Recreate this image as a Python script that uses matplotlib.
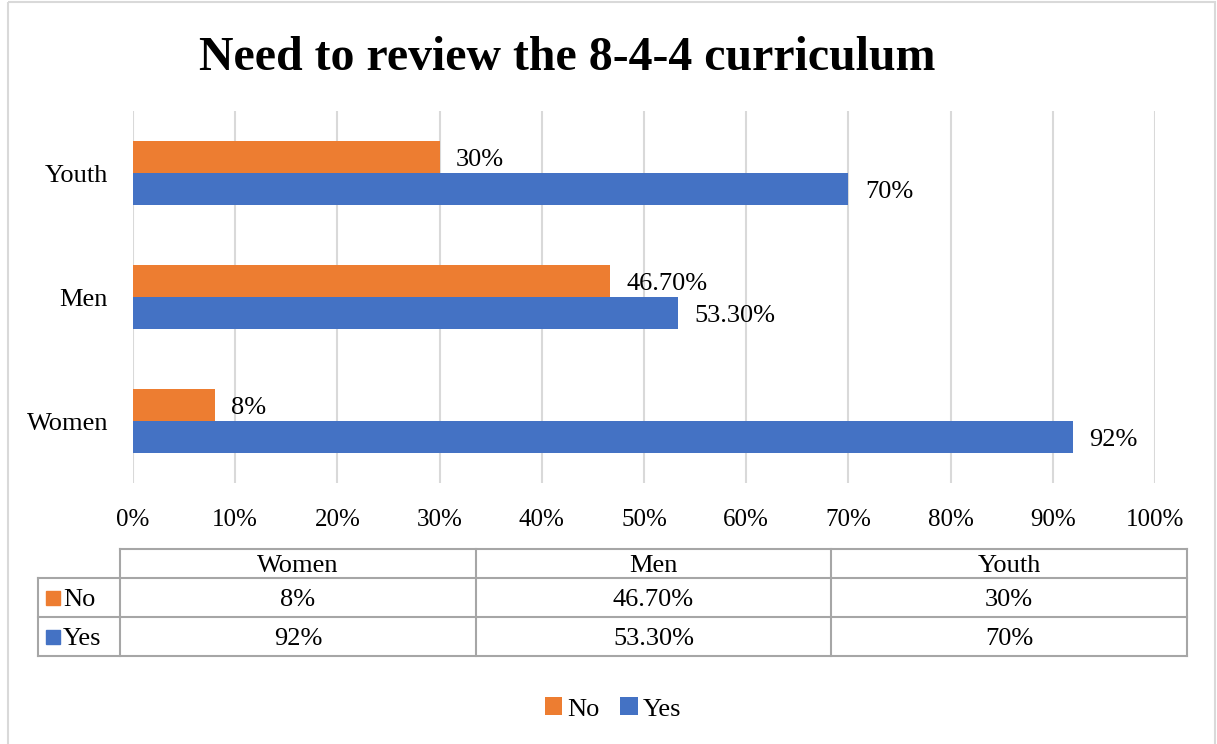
import matplotlib.pyplot as plt
from matplotlib.patches import Rectangle

plt.rcParams['font.family'] = ['Liberation Serif', 'DejaVu Serif']

groups = ['Women', 'Men', 'Youth']
no_vals = [8, 46.7, 30]
yes_vals = [92, 53.3, 70]
no_labels = ['8%', '46.70%', '30%']
yes_labels = ['92%', '53.30%', '70%']
series = ['No', 'Yes']

orange = '#ED7D31'
blue = '#4472C4'
W, H = 1217, 744
fs = 19

fig = plt.figure(figsize=(W / 100, H / 100), dpi=100)

# main bar axes
ax = fig.add_axes([133 / W, 1 - 483 / H, 1022 / W, 372 / H])
ypos = list(range(len(groups)))
bh = 0.258
bno = ax.barh([y + bh / 2 for y in ypos], no_vals, height=bh, color=orange, zorder=3, label='No')
byes = ax.barh([y - bh / 2 for y in ypos], yes_vals, height=bh, color=blue, zorder=3, label='Yes')

# value labels, nudged a little down so they sit on the bar centres
dy = 0.025
for y, v, s in zip(ypos, no_vals, no_labels):
    ax.text(v + 1.6, y + bh / 2 - dy, s, va='center', ha='left', fontsize=fs)
for y, v, s in zip(ypos, yes_vals, yes_labels):
    ax.text(v + 1.6, y - bh / 2 - dy, s, va='center', ha='left', fontsize=fs)

ax.set_xlim(0, 100)
ax.set_ylim(-0.5, 2.5)
ax.set_xticks(range(0, 101, 10))
ax.set_xticklabels([f'{t}%' for t in range(0, 101, 10)], fontsize=18)
ax.set_yticks(ypos)
ax.set_yticklabels(groups, fontsize=fs)
ax.tick_params(axis='x', length=0, pad=19)
ax.tick_params(axis='y', length=0, pad=18)
ax.grid(axis='x', color='#D9D9D9', linewidth=1.5, zorder=0)
for sp in ax.spines.values():
    sp.set_visible(False)

fig.text(567 / W, 1 - 58 / H, 'Need to review the 8-4-4 curriculum',
         ha='center', va='center', fontsize=34.5, fontweight='bold')

# data table drawn in pixel coordinates
tab = fig.add_axes([0, 0, 1, 1])
tab.set_xlim(0, W)
tab.set_ylim(H, 0)
tab.axis('off')
lc = '#A6A6A6'
col_x = [120, 476, 831, 1187]
row_y = [549, 578, 617, 656]
lab_x = 38
ty = 2.5

tab.plot([col_x[0], col_x[-1]], [row_y[0], row_y[0]], color=lc, lw=1.5)
for yy in row_y[1:]:
    tab.plot([lab_x, col_x[-1]], [yy, yy], color=lc, lw=1.5)
for xx in col_x:
    tab.plot([xx, xx], [row_y[0], row_y[-1]], color=lc, lw=1.5)
tab.plot([lab_x, lab_x], [row_y[1], row_y[-1]], color=lc, lw=1.5)

for i, g in enumerate(groups):
    cx = (col_x[i] + col_x[i + 1]) / 2
    tab.text(cx, (row_y[0] + row_y[1]) / 2 + ty, g, ha='center', va='center', fontsize=fs)
    tab.text(cx, (row_y[1] + row_y[2]) / 2 + ty, no_labels[i], ha='center', va='center', fontsize=fs)
    tab.text(cx, (row_y[2] + row_y[3]) / 2 + ty, yes_labels[i], ha='center', va='center', fontsize=fs)

for j, (name, c) in enumerate(zip(series, [orange, blue])):
    cy = (row_y[j + 1] + row_y[j + 2]) / 2
    tab.add_patch(Rectangle((46, cy - 7), 14, 14, color=c))
    tab.text(63, cy + ty, name, ha='left', va='center', fontsize=fs)

# outer chart border
tab.add_patch(Rectangle((8, 2), 1207, 760, fill=False, edgecolor='#D9D9D9', lw=1.5, clip_on=False))

fig.legend(handles=[bno, byes], labels=series, loc='center', bbox_to_anchor=(613 / W, 1 - 709 / H),
           ncol=2, frameon=False, fontsize=fs, handlelength=0.65, handleheight=0.65,
           handletextpad=0.2, columnspacing=0.8)

fig.savefig('out.png', dpi=100)
